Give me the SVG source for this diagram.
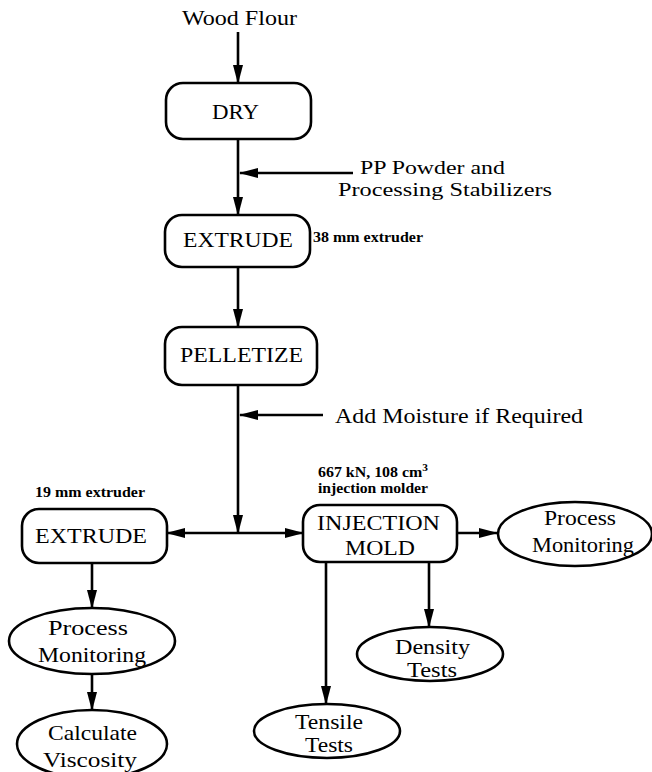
<svg xmlns="http://www.w3.org/2000/svg" width="652" height="772" viewBox="0 0 652 772">
<style>
.box{fill:#fff;stroke:#000;stroke-width:2.6}
.ell{fill:#fff;stroke:#000;stroke-width:2.6}
.t{font-family:'Liberation Serif','Times New Roman',serif;font-size:21px;fill:#000;text-anchor:middle}
.p{font-size:19.5px}
.s{font-family:'Liberation Serif','Times New Roman',serif;font-size:14px;font-weight:bold;fill:#000}
.c{fill:none;stroke:#000;stroke-width:2.6;marker-end:url(#ah)}
</style>
<defs>
<marker id="ah" markerUnits="userSpaceOnUse" markerWidth="20" markerHeight="12" refX="18" refY="5" orient="auto">
<path d="M0,0 L19,5 L0,10 z" fill="#000"/>
</marker>
</defs>
<rect width="652" height="772" fill="#fff"/>

<g id="connectors">
<line class="c" x1="238" y1="32" x2="238" y2="83"/>
<line class="c" x1="238" y1="139" x2="238" y2="215"/>
<line class="c" x1="353" y1="173" x2="240" y2="173"/>
<line class="c" x1="238" y1="267" x2="238" y2="327"/>
<line class="c" x1="238" y1="385" x2="238" y2="533"/>
<line class="c" x1="323" y1="415" x2="240" y2="415"/>
<line class="c" x1="238" y1="533" x2="167" y2="533"/>
<line class="c" x1="238" y1="533" x2="303" y2="533"/>
<line class="c" x1="457" y1="533" x2="497" y2="533"/>
<line class="c" x1="92" y1="563" x2="92" y2="608"/>
<line class="c" x1="92" y1="674" x2="92" y2="710"/>
<line class="c" x1="326" y1="562" x2="326" y2="704"/>
<line class="c" x1="429" y1="562" x2="429" y2="627"/>
</g>

<g id="wood-flour">
<text class="t" x="239.5" y="25" textLength="115" lengthAdjust="spacingAndGlyphs">Wood Flour</text>
</g>

<g id="dry">
<rect class="box" x="166" y="83" width="145" height="56" rx="17"/>
<text class="t" x="235.5" y="119" textLength="47" lengthAdjust="spacingAndGlyphs">DRY</text>
</g>

<g id="pp-powder">
<text class="t p" x="432.5" y="174" textLength="145" lengthAdjust="spacingAndGlyphs">PP Powder and</text>
<text class="t p" x="445" y="196" textLength="214" lengthAdjust="spacingAndGlyphs">Processing Stabilizers</text>
</g>

<g id="extrude-1">
<rect class="box" x="165" y="215" width="145" height="52" rx="17"/>
<text class="t" x="238" y="247" textLength="110" lengthAdjust="spacingAndGlyphs">EXTRUDE</text>
<text class="s" x="313" y="242" textLength="110" lengthAdjust="spacingAndGlyphs">38 mm extruder</text>
</g>

<g id="pelletize">
<rect class="box" x="165" y="327" width="152" height="58" rx="17"/>
<text class="t" x="241.5" y="362" textLength="123" lengthAdjust="spacingAndGlyphs">PELLETIZE</text>
</g>

<g id="add-moisture">
<text class="t" x="459" y="423" textLength="248" lengthAdjust="spacingAndGlyphs">Add Moisture if Required</text>
</g>

<g id="extrude-2">
<text class="s" x="35" y="497" textLength="110" lengthAdjust="spacingAndGlyphs">19 mm extruder</text>
<rect class="box" x="22" y="509" width="145" height="54" rx="17"/>
<text class="t" x="91" y="543" textLength="112" lengthAdjust="spacingAndGlyphs">EXTRUDE</text>
</g>

<g id="injection-mold">
<text class="s" x="318" y="477" textLength="110" lengthAdjust="spacingAndGlyphs">667 kN, 108 cm<tspan font-size="10" dy="-6">3</tspan></text>
<text class="s" x="318" y="493" textLength="110" lengthAdjust="spacingAndGlyphs">injection molder</text>
<rect class="box" x="303" y="505" width="154" height="57" rx="17"/>
<text class="t" x="378.5" y="530" textLength="123" lengthAdjust="spacingAndGlyphs">INJECTION</text>
<text class="t" x="380" y="555" textLength="70" lengthAdjust="spacingAndGlyphs">MOLD</text>
</g>

<g id="process-monitoring-right">
<ellipse class="ell" cx="575" cy="534" rx="77" ry="32"/>
<text class="t" x="580" y="525" textLength="72" lengthAdjust="spacingAndGlyphs">Process</text>
<text class="t" x="583" y="552" textLength="102" lengthAdjust="spacingAndGlyphs">Monitoring</text>
</g>

<g id="process-monitoring-left">
<ellipse class="ell" cx="92" cy="641" rx="83" ry="33"/>
<text class="t" x="88" y="635" textLength="80" lengthAdjust="spacingAndGlyphs">Process</text>
<text class="t" x="92" y="662" textLength="108" lengthAdjust="spacingAndGlyphs">Monitoring</text>
</g>

<g id="calculate-viscosity">
<ellipse class="ell" cx="92" cy="744" rx="75" ry="34"/>
<text class="t" x="92.5" y="740" textLength="89" lengthAdjust="spacingAndGlyphs">Calculate</text>
<text class="t" x="90" y="767" textLength="94" lengthAdjust="spacingAndGlyphs">Viscosity</text>
</g>

<g id="density-tests">
<ellipse class="ell" cx="430" cy="654" rx="73" ry="27"/>
<text class="t" x="432.5" y="654" textLength="75" lengthAdjust="spacingAndGlyphs">Density</text>
<text class="t" x="432" y="677" textLength="50" lengthAdjust="spacingAndGlyphs">Tests</text>
</g>

<g id="tensile-tests">
<ellipse class="ell" cx="327" cy="731" rx="73" ry="27"/>
<text class="t" x="329" y="729" textLength="68" lengthAdjust="spacingAndGlyphs">Tensile</text>
<text class="t" x="329" y="752" textLength="48" lengthAdjust="spacingAndGlyphs">Tests</text>
</g>
</svg>
